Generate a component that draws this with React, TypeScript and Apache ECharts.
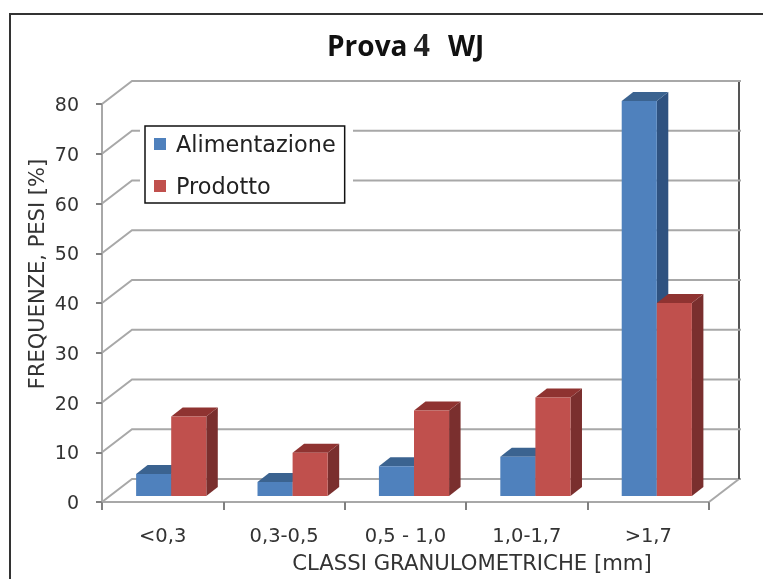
import React, { useEffect, useRef } from "react";
import * as echarts from "echarts";

const categories = ["<0,3", "0,3-0,5", "0,5 - 1,0", "1,0-1,7", ">1,7"];
const alimentazione = [4.4, 2.8, 6, 7.9, 79.4];
const prodotto = [16, 8.7, 17.2, 19.8, 38.8];
const yTicks = [0, 10, 20, 30, 40, 50, 60, 70, 80];

const DEPTH_X = 30;
const DEPTH_Y = -23;
const BAR_OFF_X = 8.5;
const BAR_OFF_Y = -6;
const BAR_DX = 11.5;
const BAR_DY = -9;
const BAR_W = 0.289;
const GRID_COLOR = "#a8a8a8";

const bar3d = (seriesIdx: number, front: string, top: string, side: string) =>
  (params: any, api: any) => {
    const cat = api.value(0);
    const val = api.value(1);
    const c0 = api.coord([cat, 0]);
    const c1 = api.coord([cat, val]);
    const bw = api.size([1, 0])[0] * BAR_W;
    const x0 = c0[0] + BAR_OFF_X + (seriesIdx - 1) * bw;
    const x1 = x0 + bw;
    const yb = c0[1] + BAR_OFF_Y;
    const yt = c1[1] + BAR_OFF_Y;
    return {
      type: "group",
      children: [
        { type: "polygon", shape: { points: [[x1, yb], [x1 + BAR_DX, yb + BAR_DY], [x1 + BAR_DX, yt + BAR_DY], [x1, yt]] }, style: { fill: side } },
        { type: "polygon", shape: { points: [[x0, yt], [x0 + BAR_DX, yt + BAR_DY], [x1 + BAR_DX, yt + BAR_DY], [x1, yt]] }, style: { fill: top } },
        { type: "rect", shape: { x: x0, y: yt, width: bw, height: yb - yt }, style: { fill: front } },
      ],
    };
  };

const wallItem = (params: any, api: any) => {
  const v = api.value(0);
  const c = api.coord([0, v]);
  const bw = api.size([1, 0])[0];
  const left = c[0] - bw / 2;
  const right = left + bw * categories.length;
  const children: any[] = [
    {
      type: "polyline",
      shape: { points: [[left, c[1]], [left + DEPTH_X, c[1] + DEPTH_Y], [right + DEPTH_X + 2, c[1] + DEPTH_Y]] },
      style: { stroke: GRID_COLOR, lineWidth: 2, fill: "none" },
    },
  ];
  if (v === 0) {
    const top = api.coord([0, yTicks[yTicks.length - 1]]);
    children.push({
      type: "line",
      shape: { x1: right, y1: c[1], x2: right + DEPTH_X, y2: c[1] + DEPTH_Y },
      style: { stroke: GRID_COLOR, lineWidth: 2 },
    });
    children.push({
      type: "line",
      shape: { x1: right + DEPTH_X, y1: c[1] + DEPTH_Y, x2: right + DEPTH_X, y2: top[1] + DEPTH_Y },
      style: { stroke: "#555555", lineWidth: 2 },
    });
  }
  return { type: "group", children };
};

export default function App() {
  const ref = useRef<HTMLDivElement>(null);
  useEffect(() => {
    document.body.style.margin = "0";
    const chart = echarts.init(ref.current!, undefined, { renderer: "svg" });
    chart.setOption({
      animation: false,
      backgroundColor: "#ffffff",
      textStyle: { fontFamily: "DejaVu Sans" },
      title: {
        left: 322,
        top: 23,
        text: "{b|Prova}{s|}{d|4}{t|}{b|WJ}",
        textStyle: {
          rich: {
            b: { fontFamily: "Open Sans", fontWeight: "bold", fontSize: 28, color: "#111111" },
            d: { fontFamily: "Liberation Serif", fontSize: 33, color: "#222222" },
            s: { width: 6 },
            t: { width: 18 },
          },
        },
      },
      legend: {
        orient: "vertical",
        left: 145,
        top: 126,
        z: 5,
        padding: [7, 9, 6, 9],
        itemWidth: 12,
        itemHeight: 12,
        itemGap: 20,
        backgroundColor: "#ffffff",
        borderColor: "#111111",
        borderWidth: 1.5,
        textStyle: { fontFamily: "DejaVu Sans", fontSize: 22.4, color: "#222222", padding: [0, 0, 0, 5] },
        data: [
          { name: "Alimentazione", icon: "rect", itemStyle: { color: "#4f81bd" } },
          { name: "Prodotto", icon: "rect", itemStyle: { color: "#c0504d" } },
        ],
      },
      grid: { left: 102, right: 54, top: 104, height: 398 },
      xAxis: {
        type: "category",
        data: categories,
        axisLine: { lineStyle: { color: GRID_COLOR, width: 2 } },
        axisTick: { show: true, length: 8, alignWithLabel: false, lineStyle: { color: "#808080", width: 2 } },
        axisLabel: { color: "#333333", fontFamily: "DejaVu Sans", fontSize: 19.5, margin: 23, interval: 0 },
        splitLine: { show: false },
      },
      yAxis: {
        type: "value",
        min: 0,
        max: 80,
        interval: 10,
        axisLine: { show: true, lineStyle: { color: GRID_COLOR, width: 2 } },
        axisTick: { show: true, length: 6, lineStyle: { color: "#808080", width: 2 } },
        axisLabel: { color: "#333333", fontFamily: "DejaVu Sans", fontSize: 19, margin: 23 },
        splitLine: { show: false },
      },
      graphic: [
        {
          type: "polyline",
          z: 1,
          shape: { points: [[10, 579], [10, 14], [763, 14]] },
          style: { stroke: "#333333", lineWidth: 2, fill: "none" },
        },
        {
          type: "rect",
          z: 4,
          shape: { x: 140, y: 120, width: 213, height: 89 },
          style: { fill: "#ffffff" },
        },
        {
          type: "text",
          x: 472,
          y: 562,
          style: { text: "CLASSI GRANULOMETRICHE [mm]", fill: "#333333", font: "21.2px 'DejaVu Sans'", textAlign: "center", textVerticalAlign: "middle" },
        },
        {
          type: "text",
          x: 37,
          y: 274,
          rotation: Math.PI / 2,
          style: { text: "FREQUENZE, PESI [%]", fill: "#333333", font: "21px 'DejaVu Sans'", textAlign: "center", textVerticalAlign: "middle" },
        },
      ],
      series: [
        {
          type: "custom",
          name: "wall",
          silent: true,
          z: 1,
          clip: false,
          data: yTicks.map((v) => [v]),
          encode: { y: 0 },
          renderItem: wallItem,
        },
        {
          type: "custom",
          name: "Alimentazione",
          z: 2,
          clip: false,
          itemStyle: { color: "#4f81bd" },
          data: alimentazione.map((v, i) => [i, v]),
          encode: { x: 0, y: 1 },
          renderItem: bar3d(0, "#4f81bd", "#3b6390", "#2f5280"),
        },
        {
          type: "custom",
          name: "Prodotto",
          z: 3,
          clip: false,
          itemStyle: { color: "#c0504d" },
          data: prodotto.map((v, i) => [i, v]),
          encode: { x: 0, y: 1 },
          renderItem: bar3d(1, "#c0504d", "#8f3331", "#7a2f2e"),
        },
      ],
    });
    return () => chart.dispose();
  }, []);
  return <div ref={ref} style={{ position: "fixed", left: 0, top: 0, width: 763, height: 579, filter: "blur(0.4px)" }} />;
}
